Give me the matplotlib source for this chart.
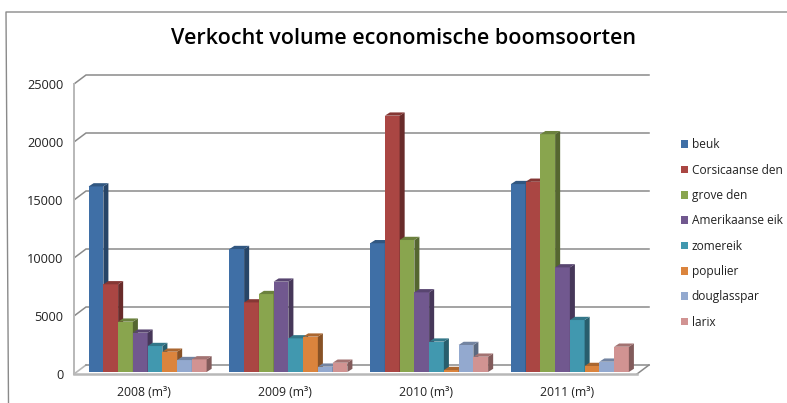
import matplotlib
matplotlib.use("Agg")
import matplotlib.pyplot as plt
from matplotlib.patches import Polygon, Patch
from matplotlib.colors import to_rgb

# values
years = ['2008 (m³)', '2009 (m³)', '2010 (m³)', '2011 (m³)']
beuk = [16000, 10600, 11100, 16200]
corsicaanse_den = [7560, 6000, 22100, 16400]
grove_den = [4340, 6720, 11380, 20500]
amerikaanse_eik = [3390, 7790, 6870, 9020]
zomereik = [2240, 2900, 2620, 4480]
populier = [1750, 3050, 170, 520]
douglasspar = [1030, 460, 2330, 890]
larix = [1090, 800, 1320, 2180]

names = ['beuk', 'Corsicaanse den', 'grove den', 'Amerikaanse eik',
         'zomereik', 'populier', 'douglasspar', 'larix']
series = [beuk, corsicaanse_den, grove_den, amerikaanse_eik,
          zomereik, populier, douglasspar, larix]
colors = ['#3f6fa6', '#aa4643', '#89a54e', '#71588f',
          '#4198af', '#db843d', '#93a9cf', '#d19392']

W, H = 787, 403
plt.rcParams['font.family'] = ['Open Sans', 'DejaVu Sans']
fig = plt.figure(figsize=(W / 100, H / 100), dpi=100)

# front plane of the fake 3d box, in pixels
left, right, top, bottom = 74, 637, 84, 374
ax = fig.add_axes([left / W, 1 - bottom / H, (right - left) / W, (bottom - top) / H])
ax.set_xlim(-0.5, 3.5)
ax.set_ylim(0, 25000)

# depth of the box in data units
dx = 12 / (right - left) * 4
dy = 9 / (bottom - top) * 25000
grid_col = '#8a8a8a'
wall_col = '#b8b8b8'

for v in range(5000, 25001, 5000):
    ax.plot([-0.5, -0.5 + dx, 3.5 + dx], [v, v + dy, v + dy], color=grid_col,
            lw=1.1, clip_on=False, zorder=1, solid_joinstyle='miter')
# floor
ax.plot([-0.5, -0.5 + dx], [0, dy], color=wall_col, lw=1.2, clip_on=False, zorder=1)
ax.plot([-0.5 + dx, 3.5 + dx], [dy, dy], color=grid_col, lw=1.1, clip_on=False, zorder=1)
ax.plot([3.5, 3.5 + dx], [0, dy], color=grid_col, lw=1.1, clip_on=False, zorder=1)

# bars sit a bit behind the front edge
bw = 14.75 / (right - left) * 4
off_x, off_y = 0.27 * dx, 0.22 * dy
dep_x, dep_y = 0.42 * dx, 0.36 * dy


def shade(col, f):
    return tuple(c * f for c in to_rgb(col))


for g in range(len(years)):
    for i, vals in enumerate(series):
        x0 = g + off_x + (i - 4) * bw
        h = vals[g]
        z = 3 + i * 0.01
        ax.bar(x0, h, bw, bottom=off_y, align='edge', color=colors[i], lw=0, zorder=z, clip_on=False)
        x1 = x0 + bw
        y0, y1 = off_y, off_y + h
        ax.add_patch(Polygon([(x1, y0), (x1 + dep_x, y0 + dep_y), (x1 + dep_x, y1 + dep_y), (x1, y1)],
                             fc=shade(colors[i], 0.62), lw=0, zorder=z, clip_on=False))
        ax.add_patch(Polygon([(x0, y1), (x0 + dep_x, y1 + dep_y), (x1 + dep_x, y1 + dep_y), (x1, y1)],
                             fc=shade(colors[i], 0.78), lw=0, zorder=z, clip_on=False))

for s in ['top', 'right']:
    ax.spines[s].set_visible(False)
for s in ['left', 'bottom']:
    ax.spines[s].set_color(wall_col)
ax.spines['left'].set_linewidth(1.4)
ax.spines['bottom'].set_linewidth(1.8)
ax.set_xticks(range(4))
ax.set_xticklabels(years, fontsize=8.8, color='#222222')
ax.set_yticks(range(0, 25001, 5000))
ax.tick_params(axis='y', length=0, pad=7.5, labelsize=9.2, labelcolor='#222222')
ax.tick_params(axis='x', length=0, pad=8.5)

fig.text(404 / W, 1 - 38.5 / H, 'Verkocht volume economische boomsoorten', ha='center', va='center',
         fontsize=15.5, fontweight='semibold', color='black')

handles = [Patch(fc=c, lw=0) for c in colors]
fig.legend(handles, names, loc='center left', bbox_to_anchor=(681 / W, 1 - 233.5 / H), frameon=False,
           fontsize=8.6, handlelength=0.6, handleheight=0.6, handletextpad=0.3, labelspacing=1.03,
           borderpad=0, borderaxespad=0, labelcolor='#222222')

# chart frame
fig.add_artist(plt.Line2D([8.5 / W, 6 / W, 1], [0, 1 - 12 / H, 1 - 12 / H], color='#8a8a8a', lw=1))

fig.savefig('out.png', dpi=100)
